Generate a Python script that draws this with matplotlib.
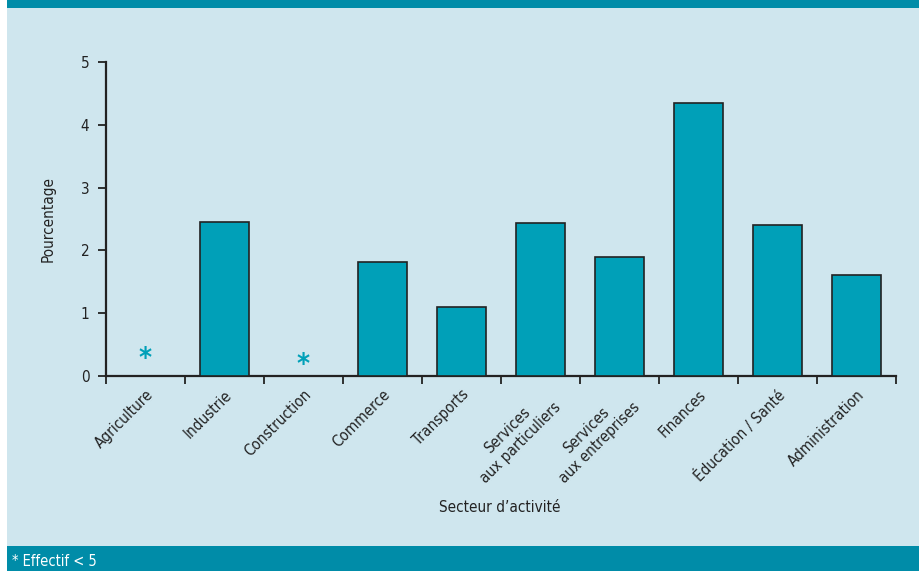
import matplotlib
matplotlib.use("Agg")
import matplotlib.pyplot as plt
from matplotlib.patches import Rectangle

# secteurs et pourcentages
secteurs = ["Agriculture", "Industrie", "Construction", "Commerce", "Transports",
            "Services\naux particuliers", "Services\naux entreprises", "Finances",
            "Éducation / Santé", "Administration"]
pourcentages = [0, 2.45, 0, 1.82, 1.10, 2.44, 1.90, 4.35, 2.40, 1.61]
# effectif < 5 : astérisque à la place de la barre
petits_effectifs = [0, 2]
hauteur_etoile = [0.27, 0.17]
yticks = [0, 1, 2, 3, 4, 5]

fond = "#cfe6ee"
bande = "#008ca8"
barre = "#00a0b8"

plt.rcParams['font.family'] = ['DejaVu Sans']
plt.rcParams['font.stretch'] = 'condensed'

fig = plt.figure(figsize=(9.2, 5.71), dpi=100)
fig.patch.set_facecolor("white")
fig.patches.append(Rectangle((7/920, 0), 1, 1, transform=fig.transFigure,
                             facecolor=fond, edgecolor="none", zorder=-2))
fig.patches.append(Rectangle((7/920, 1 - 8/571), 1, 8/571, transform=fig.transFigure,
                             facecolor=bande, edgecolor="none", zorder=-1))
fig.patches.append(Rectangle((7/920, 0), 1, 25/571, transform=fig.transFigure,
                             facecolor=bande, edgecolor="none", zorder=-1))
fig.text(12/920, 10/571, "* Effectif < 5", color="white", fontsize=10.5, va="center")

ax = fig.add_axes([106/920, 1 - 376/571, 790/920, 314/571])
ax.set_facecolor("none")

x = list(range(len(secteurs)))
hauteurs = [0 if i in petits_effectifs else v for i, v in enumerate(pourcentages)]
ax.bar(x, hauteurs, width=0.63, color=barre, edgecolor="#222222", linewidth=1.2, zorder=3)
for i, h in zip(petits_effectifs, hauteur_etoile):
    ax.text(i, h, "*", color=barre, fontsize=20, fontweight="bold",
            ha="center", va="center")

ax.set_xlim(-0.5, len(secteurs) - 0.5)
ax.set_ylim(0, 5)
ax.set_yticks(yticks)
ax.set_xticks([i - 0.5 for i in range(len(secteurs) + 1)])
ax.set_xticklabels([])
ax.set_xticks(x, minor=True)
ax.set_xticklabels(secteurs, minor=True, rotation=45, ha="right",
                   rotation_mode="anchor", multialignment="center", fontsize=11,
                   color="#222222")
ax.tick_params(axis="x", which="minor", length=0, pad=8)
ax.tick_params(axis="x", which="major", length=6, width=1.3, color="#222222")
ax.tick_params(axis="y", length=6, width=1.3, color="#222222", labelsize=11,
               labelcolor="#222222", pad=6)

for s in ["top", "right"]:
    ax.spines[s].set_visible(False)
for s in ["left", "bottom"]:
    ax.spines[s].set_linewidth(1.6)
    ax.spines[s].set_color("#222222")

ax.set_ylabel("Pourcentage", fontsize=11, color="#222222", labelpad=18)
fig.text(500/920, 1 - 508/571, "Secteur d\u2019activité", fontsize=11,
         color="#222222", ha="center", va="center")

fig.savefig("out.png", dpi=100, facecolor=fig.get_facecolor())
